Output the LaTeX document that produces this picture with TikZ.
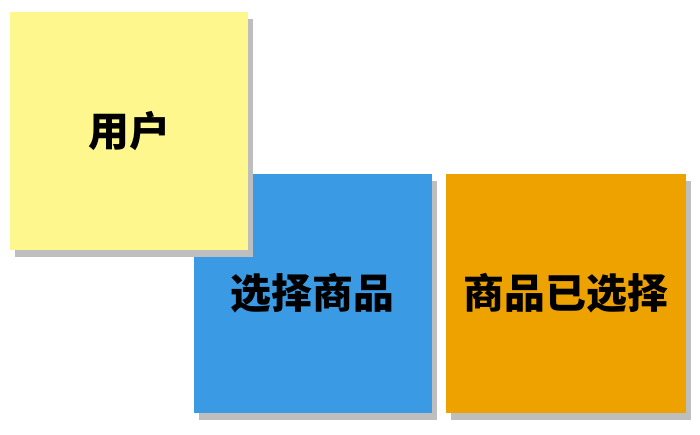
\documentclass[tikz,border=0pt]{standalone}
\usepackage{fontspec}
\newfontfamily\cjk{Noto Sans CJK SC}
\usetikzlibrary{shadows}
\definecolor{noteyellow}{RGB}{253,247,142}
\definecolor{noteblue}{RGB}{58,154,228}
\definecolor{noteorange}{RGB}{238,162,0}
\definecolor{noteshadow}{RGB}{190,190,190}
\tikzset{
  note/.style={minimum width=238bp, minimum height=238bp, inner sep=0pt,
    drop shadow={shadow xshift=5bp, shadow yshift=-7bp, fill=noteshadow, opacity=1},
    font=\cjk\bfseries\fontsize{41}{44}\selectfont},
}

\begin{document}
\begin{tikzpicture}[x=1bp,y=-1bp]
\useasboundingbox [fill=white] (0,0) rectangle (700,435);
\node [note,fill=noteblue] (select) at (312.5,293.5) {选择商品};
\node [note,fill=noteyellow] (user) at (129,131) {用户};
\node [note,fill=noteorange,minimum width=240bp] (selected) at (566,293.5) {商品已选择};
\end{tikzpicture}
\end{document}
